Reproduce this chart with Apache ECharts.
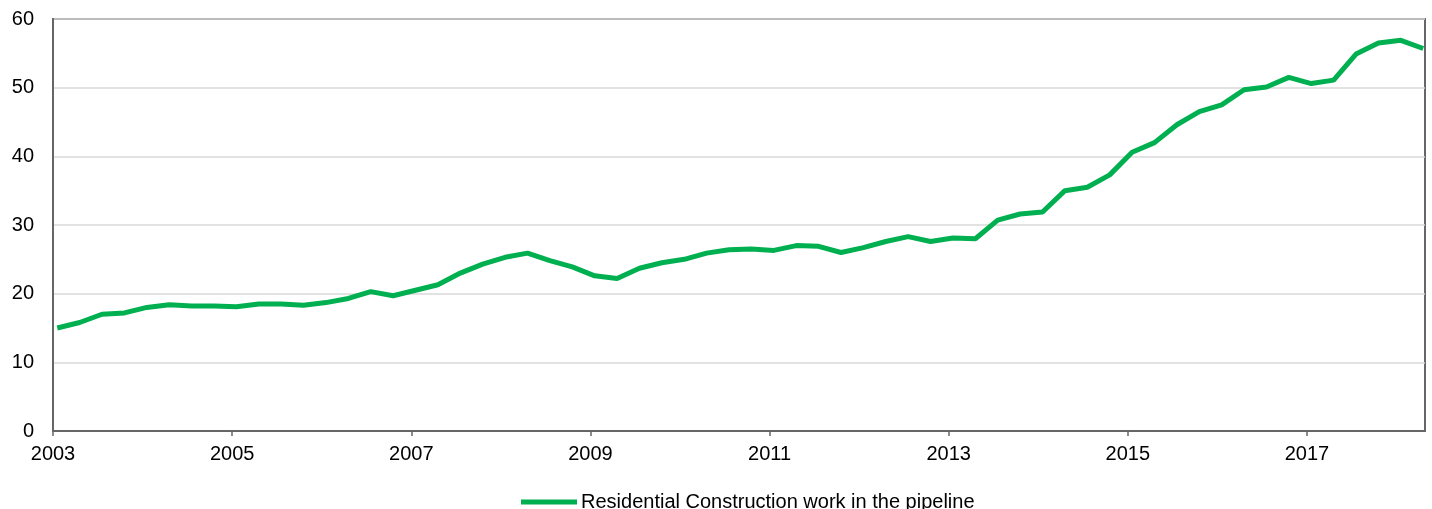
<!DOCTYPE html>
<html>
<head>
<meta charset="utf-8">
<script src="https://cdn.jsdelivr.net/npm/echarts@6/dist/echarts.min.js"></script>
<style>
  html, body { margin: 0; padding: 0; background: #fff; }
  #chart { width: 1432px; height: 509px; }
</style>
</head>
<body>
<div id="chart"></div>
<script>
// Quarterly series, 2003 Q1 through 2018 Q2
const quarters = [];
for (let y = 2003; y <= 2018; y++) {
  for (let q = 1; q <= 4; q++) {
    if (y === 2018 && q > 2) break;
    quarters.push(y + ' Q' + q);
  }
}

const pipeline = [
  15.0, 15.8, 17.0, 17.2, 18.0, 18.4, 18.2, 18.2,
  18.1, 18.5, 18.5, 18.3, 18.7, 19.3, 20.3, 19.7,
  20.5, 21.3, 23.0, 24.3, 25.3, 25.9, 24.8, 23.9,
  22.6, 22.2, 23.7, 24.5, 25.0, 25.9, 26.4, 26.5,
  26.3, 27.0, 26.9, 26.0, 26.7, 27.6, 28.3, 27.6,
  28.1, 28.0, 30.7, 31.6, 31.9, 35.0, 35.5, 37.3,
  40.6, 42.0, 44.6, 46.5, 47.5, 49.7, 50.1, 51.5,
  50.6, 51.1, 54.9, 56.5, 56.9, 55.7
];

const yearTicks = [2003, 2005, 2007, 2009, 2011, 2013, 2015, 2017];
const seriesName = 'Residential Construction work in the pipeline';

// x position in quarters since 2003 Q1; each reading sits slightly into its quarter
const qOffset = 0.19;
const lineData = pipeline.map((v, i) => [i + qOffset, v]);
const tickPositions = yearTicks.map(y => (y - 2003) * 4);

const chart = echarts.init(document.getElementById('chart'), null, { renderer: 'canvas' });

chart.setOption({
  animation: false,
  backgroundColor: '#ffffff',
  textStyle: { fontFamily: 'Liberation Sans, Arial, sans-serif' },
  grid: { left: 53, right: 7, top: 19, bottom: 78, show: true, borderColor: '#666666', borderWidth: 2, containLabel: false },
  legend: {
    data: [seriesName],
    top: 487,
    left: 516,
    icon: 'rect',
    itemWidth: 56,
    itemHeight: 5,
    itemGap: 10,
    textStyle: { fontSize: 20, color: '#000', fontFamily: 'Liberation Sans, Arial, sans-serif', padding: [0, 0, 0, -1] }
  },
  xAxis: {
    type: 'value',
    min: 0,
    max: 61.27,
    axisLine: { show: true, lineStyle: { color: '#666666', width: 2 } },
    axisTick: { show: true, length: 5, lineStyle: { color: '#666666', width: 1.5 }, customValues: tickPositions },
    axisLabel: {
      customValues: tickPositions,
      fontSize: 20,
      color: '#000',
      margin: 13,
      formatter: v => String(2003 + Math.round(v / 4))
    },
    splitLine: { show: false }
  },
  yAxis: {
    type: 'value',
    min: 0,
    max: 60,
    interval: 10,
    axisLine: { show: true, lineStyle: { color: '#666666', width: 2 } },
    axisTick: { show: false },
    axisLabel: { fontSize: 20, color: '#000', margin: 19 },
    splitLine: { show: true, lineStyle: { color: '#d9d9d9', width: 1.5 } }
  },
  series: [{
    name: seriesName,
    type: 'line',
    data: lineData,
    showSymbol: false,
    symbol: 'none',
    clip: true,
    lineStyle: { color: '#00b050', width: 5 },
    itemStyle: { color: '#00b050' }
  }]
});
</script>
</body>
</html>
